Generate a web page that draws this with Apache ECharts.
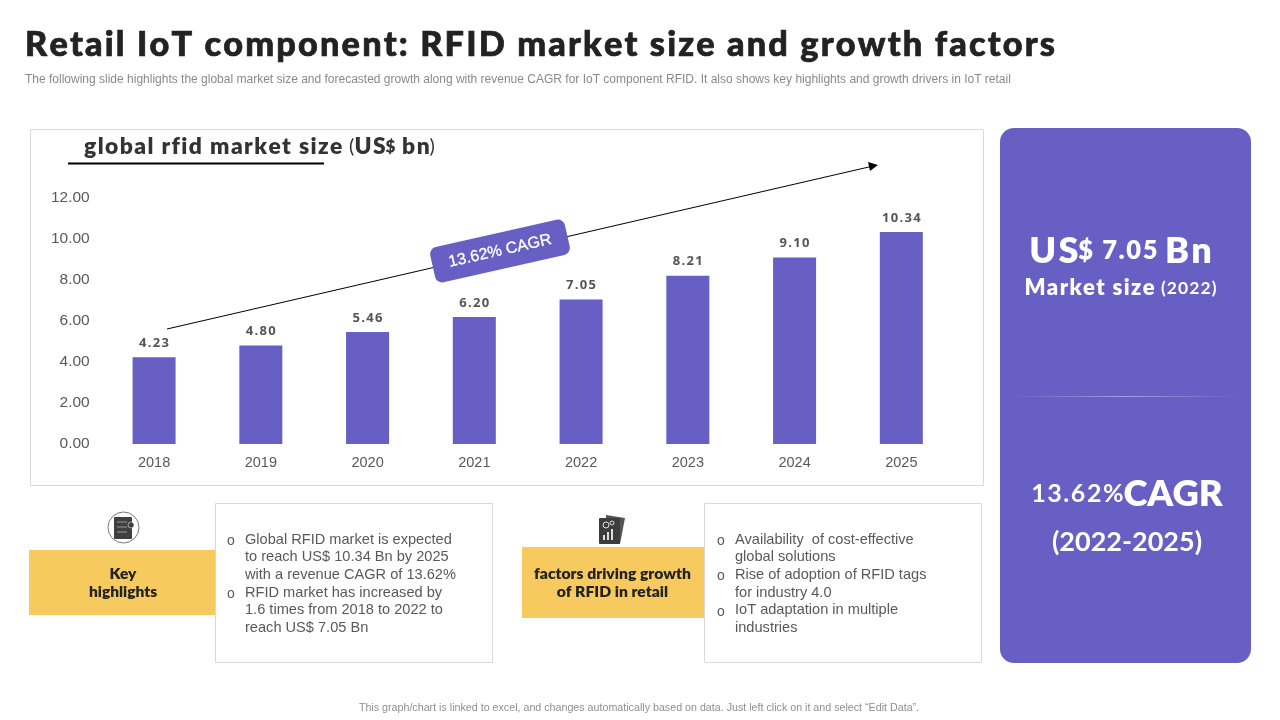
<!DOCTYPE html>
<html>
<head>
<meta charset="utf-8">
<style>html,body{margin:0;padding:0;background:#fff}#c{width:1280px;height:720px}</style>
<script src="https://cdn.jsdelivr.net/npm/echarts@6/dist/echarts.min.js"></script>
</head>
<body>
<div id="c"></div>
<script>
const categories = ['2018','2019','2020','2021','2022','2023','2024','2025'];
const marketSize = [4.23,4.80,5.46,6.20,7.05,8.21,9.10,10.34];
const titleText = 'Retail IoT component: RFID market size and growth factors';
const subtitleText = 'The following slide highlights the global market size and forecasted growth along with revenue CAGR for IoT component RFID. It also shows key highlights and growth drivers in IoT retail';
const footerText = 'This graph/chart is linked to excel, and changes automatically based on data. Just left click on it and select “Edit Data”.';
const highlights = [
  ['Global RFID market is expected','to reach US$ 10.34 Bn by 2025','with a revenue CAGR of 13.62%'],
  ['RFID market has increased by','1.6 times from 2018 to 2022 to','reach US$ 7.05 Bn']
];
const factors = [
  ['Availability  of cost-effective','global solutions'],
  ['Rise of adoption of RFID tags','for industry 4.0'],
  ['IoT adaptation in multiple','industries']
];
const PURPLE = '#675fc4', YELLOW = '#f6ca5e', BORDER = '#d9d9d9', HEAD = 'Lato, "Noto Sans", sans-serif', BODY = '"Liberation Sans", Arial, sans-serif';
const sp = s => s.split('').join('\u200a');

function txt(x, y, text, size, color, extra) {
  return Object.assign({type:'text', x, y, silent:true,
    style:Object.assign({text, fontSize:size, fill:color, fontFamily:BODY, textAlign:'left', textVerticalAlign:'middle'}, extra||{})});
}
function box(x, y, w, h, fill, stroke, r) {
  return {type:'rect', silent:true, shape:{x, y, width:w, height:h, r:r||0}, style:{fill, stroke:stroke||null, lineWidth:stroke?1:0}};
}
function bulletList(groups, bulletX, textX, startY, step) {
  const out = []; let y = startY;
  groups.forEach(lines => {
    out.push(txt(bulletX, y + 1.5, 'o', 14, '#595959'));
    lines.forEach(line => { out.push(txt(textX, y, line, 14.6, '#595959')); y += step; });
  });
  return out;
}

const graphics = [
  box(30.5,129.5,953,356,'transparent',BORDER),
  txt(25,44.5,sp(titleText),34.3,'#222222',{fontFamily:HEAD,fontWeight:900,stroke:'#222222',lineWidth:0.7}),
  txt(25,79.5,subtitleText,12,'#8a8a8a'),
  txt(84,147,'',23,'#333',{
    text:'{a|'+sp('global rfid market size ')+'}{b|(}{a|'+sp('US')+'}{c|$}{a|'+sp(' bn')+'}{b|)}',
    rich:{a:{fontSize:22.8,fontWeight:800,fontFamily:HEAD,fill:'#333333'},
          b:{fontSize:20,fontWeight:400,fontFamily:HEAD,fill:'#333333'},
          c:{fontSize:17,fontWeight:800,fontFamily:HEAD,fill:'#333333'}}}),
  {type:'line',silent:true,shape:{x1:68,y1:163.5,x2:324,y2:163.5},style:{stroke:'#000',lineWidth:2}},

  // CAGR arrow and tag
  {type:'line',silent:true,shape:{x1:167,y1:329,x2:871,y2:166.5},style:{stroke:'#000',lineWidth:1}},
  {type:'polygon',silent:true,shape:{points:[[878,165],[868,162],[870,171]]},style:{fill:'#000'}},
  {type:'group',x:500,y:251,rotation:12.7*Math.PI/180,silent:true,children:[
    {type:'rect',shape:{x:-69,y:-18,width:138,height:36,r:7},style:{fill:PURPLE}},
    {type:'text',style:{text:'13.62% CAGR',x:0,y:0,fontSize:16,fontFamily:BODY,fill:'#fff',stroke:'#fff',lineWidth:0.3,textAlign:'center',textVerticalAlign:'middle'}}
  ]},

  // Right panel
  box(1000,128,251,535,PURPLE,null,14),
  txt(1120.5,251,'',36,'#fff',{textAlign:'center',
    text:'{a|'+sp('US')+'}{b|'+sp('$ 7.05 ')+'}{a|'+sp('Bn')+'}',
    rich:{a:{fontSize:36,fontWeight:800,fontFamily:HEAD,fill:'#fff'},b:{fontSize:25.5,fontWeight:800,fontFamily:HEAD,fill:'#fff'}}}),
  txt(1120.5,288,'',22,'#fff',{textAlign:'center',
    text:'{a|'+sp('Market size ')+'}{b|'+sp('(2022)')+'}',
    rich:{a:{fontSize:22,fontWeight:800,fontFamily:HEAD,fill:'#fff'},b:{fontSize:17.5,fontWeight:700,fontFamily:HEAD,fill:'#fff'}}}),
  {type:'rect',silent:true,shape:{x:1010,y:396,width:230,height:1},style:{fill:{type:'linear',x:0,y:0,x2:1,y2:0,colorStops:[
    {offset:0,color:'rgba(255,255,255,0)'},{offset:0.5,color:'rgba(255,255,255,0.4)'},{offset:1,color:'rgba(255,255,255,0)'}]}}},
  txt(1127,494,'',36,'#fff',{textAlign:'center',
    text:'{b|'+sp('13.62%')+'}{a|CAGR}',
    rich:{a:{fontSize:36.5,fontWeight:800,fontFamily:HEAD,fill:'#fff'},b:{fontSize:25,fontWeight:700,fontFamily:HEAD,fill:'#fff'}}}),
  txt(1127,542,'(2022-2025)',27,'#fff',{textAlign:'center',fontWeight:700,fontFamily:HEAD}),

  // Key highlights
  box(215.5,503.5,277,159,'#fff',BORDER),
  box(29,550,186,65,YELLOW),
  txt(123,574,'Key',15.5,'#222',{textAlign:'center',fontWeight:800,fontFamily:HEAD}),
  txt(123,591.5,'highlights',15.5,'#222',{textAlign:'center',fontWeight:800,fontFamily:HEAD}),
  {type:'circle',silent:true,shape:{cx:123.5,cy:527.5,r:15.5},style:{fill:'#fff',stroke:'#777',lineWidth:1}},
  {type:'rect',silent:true,shape:{x:114,y:517,width:18,height:22,r:1},style:{fill:'#404040'}},
  {type:'circle',silent:true,shape:{cx:131,cy:525,r:3},style:{fill:'#404040',stroke:'#fff',lineWidth:0.5}},
  {type:'line',silent:true,shape:{x1:117,y1:522,x2:127,y2:522},style:{stroke:'#999',lineWidth:1}},
  {type:'line',silent:true,shape:{x1:117,y1:527,x2:127,y2:527},style:{stroke:'#999',lineWidth:1}},
  {type:'line',silent:true,shape:{x1:117,y1:532,x2:127,y2:532},style:{stroke:'#999',lineWidth:1}},
  ...bulletList(highlights,227,245,539.5,17.7),

  // Growth factors
  box(704.5,503.5,277,159,'#fff',BORDER),
  box(522,547,182,71,YELLOW),
  txt(612.5,574,'factors driving growth',15.7,'#222',{textAlign:'center',fontWeight:800,fontFamily:HEAD}),
  txt(612.5,591.5,'of RFID in retail',15.7,'#222',{textAlign:'center',fontWeight:800,fontFamily:HEAD}),
  {type:'polygon',silent:true,shape:{points:[[606,515],[625,518],[620,544],[606,544]]},style:{fill:'#555'}},
  {type:'rect',silent:true,shape:{x:599,y:518,width:21,height:26,r:1},style:{fill:'#3d3d3d'}},
  {type:'circle',silent:true,shape:{cx:606,cy:525,r:3},style:{fill:'none',stroke:'#ddd',lineWidth:1}},
  {type:'circle',silent:true,shape:{cx:612,cy:523,r:2},style:{fill:'none',stroke:'#ddd',lineWidth:1}},
  {type:'rect',silent:true,shape:{x:603,y:535,width:2,height:5},style:{fill:'#ddd'}},
  {type:'rect',silent:true,shape:{x:607,y:532,width:2,height:8},style:{fill:'#ddd'}},
  {type:'rect',silent:true,shape:{x:611,y:529,width:2,height:11},style:{fill:'#ddd'}},
  ...bulletList(factors,717,735,539.5,17.7),

  txt(639,708,footerText,10.7,'#8f8f8f',{textAlign:'center'})
];

const chart = echarts.init(document.getElementById('c'), null, {renderer:'canvas'});
chart.setOption({
  animation:false,
  backgroundColor:'#ffffff',
  graphic:{elements:graphics},
  grid:{left:100.7,right:1280-954.7,top:198,bottom:720-444,containLabel:false},
  xAxis:{type:'category',data:categories,
    axisLine:{show:false},axisTick:{show:false},
    axisLabel:{color:'#595959',fontSize:14.5,fontFamily:BODY,margin:11}},
  yAxis:{type:'value',min:0,max:12,interval:2,
    axisLine:{show:false},axisTick:{show:false},splitLine:{show:false},
    axisLabel:{color:'#595959',fontSize:15.5,fontFamily:BODY,margin:11,padding:[2,0,0,0],formatter:v=>v.toFixed(2)}},
  series:[{type:'bar',data:marketSize,barWidth:43,z:1,
    itemStyle:{color:PURPLE},
    label:{show:true,position:'top',distance:7.5,color:'#555555',fontSize:13,fontWeight:700,fontFamily:'"Open Sans", sans-serif',
      formatter:p=>p.value.toFixed(2).split('').join('\u200a')}}]
});
</script>
</body>
</html>
